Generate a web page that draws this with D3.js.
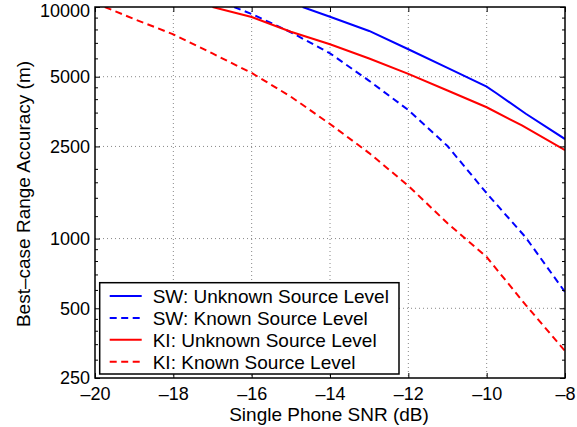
<!DOCTYPE html>
<html>
<head>
<meta charset="utf-8">
<script src="https://cdn.jsdelivr.net/npm/d3@7"></script>
<style>
  body { margin: 0; background: #fff; }
  text { font-family: "Liberation Sans", Arial, Helvetica, sans-serif; fill: #000; }
</style>
</head>
<body>
<div id="chart"></div>
<script>
// values (SNR in dB, accuracy in m)
var swUnknownX = [-14.7, -14, -13, -12, -11, -10, -9.75, -9, -8]
var swUnknownY = [10000, 9080, 7880, 6570, 5460, 4530, 4240, 3460, 2690]

var swKnownX = [-16.45, -16, -15, -14, -13, -12, -11, -10, -9, -8]
var swKnownY = [10000, 9330, 7780, 6310, 4800, 3590, 2510, 1570, 1010, 588]

var kiUnknownX = [-17, -16, -15, -14, -13, -12, -11, -10, -9.1, -8]
var kiUnknownY = [10000, 9050, 7820, 6900, 5990, 5140, 4360, 3690, 3080, 2410]

var kiKnownX = [-19.75, -19, -18, -17, -16, -15, -14, -13, -12, -11, -10, -9, -8]
var kiKnownY = [10000, 8870, 7620, 6300, 5190, 4100, 3125, 2340, 1690, 1165, 832, 516, 327]

var xTicks = [-20, -18, -16, -14, -12, -10, -8]
var yTicks = [250, 500, 1000, 2500, 5000, 10000]
var yMinorTicks = [300, 350, 400, 450, 600, 700, 800, 900, 1250, 1500, 1750, 2000,
                   3000, 3500, 4000, 4500, 6000, 7000, 8000, 9000]

var seriesNames = ["SW: Unknown Source Level", "SW: Known Source Level",
                   "KI: Unknown Source Level", "KI: Known Source Level"]
var seriesColors = ["#0000ff", "#0000ff", "#ff0000", "#ff0000"]
var seriesDashed = [false, true, false, true]

// layout
var widthSvg = 577
var heightSvg = 427
var margin = {left: 95, top: 7, right: 12, bottom: 49}
var plotWidth = widthSvg - margin.left - margin.right
var plotHeight = heightSvg - margin.top - margin.bottom
var dashPattern = "7,4.5"
var labelSize = 19
var tickSize = 18

var svg = d3.select("#chart")
  .append("svg")
  .attr("width", widthSvg)
  .attr("height", heightSvg)

var g = svg.append("g")
  .attr("transform", "translate(" + margin.left + "," + margin.top + ")")

var x = d3.scaleLinear().domain([-20, -8]).range([0, plotWidth])
var y = d3.scaleLog().domain([250, 10000]).range([plotHeight, 0])

// dotted grid
g.selectAll(".xgrid")
  .data(xTicks.slice(1, -1))
  .enter().append("line")
  .attr("x1", function(d) { return x(d) }).attr("x2", function(d) { return x(d) })
  .attr("y1", 0).attr("y2", plotHeight)
  .attr("stroke", "#888").attr("stroke-width", 1).attr("stroke-dasharray", "1,3")

g.selectAll(".ygrid")
  .data(yTicks.slice(1, -1))
  .enter().append("line")
  .attr("y1", function(d) { return y(d) }).attr("y2", function(d) { return y(d) })
  .attr("x1", 0).attr("x2", plotWidth)
  .attr("stroke", "#888").attr("stroke-width", 1).attr("stroke-dasharray", "1,3")

// clip so curves stop at the frame
svg.append("clipPath").attr("id", "plotclip")
  .append("rect").attr("width", plotWidth).attr("height", plotHeight)

var line = d3.line()
  .x(function(d) { return x(d[0]) })
  .y(function(d) { return y(d[1]) })

var allSeries = [
  d3.zip(swUnknownX, swUnknownY),
  d3.zip(swKnownX, swKnownY),
  d3.zip(kiUnknownX, kiUnknownY),
  d3.zip(kiKnownX, kiKnownY)
]

g.append("g").attr("clip-path", "url(#plotclip)")
  .selectAll("path")
  .data(allSeries)
  .enter().append("path")
  .attr("d", line)
  .attr("fill", "none")
  .attr("stroke", function(d, i) { return seriesColors[i] })
  .attr("stroke-width", 2)
  .attr("stroke-dasharray", function(d, i) { return seriesDashed[i] ? dashPattern : null })

// axes: inward ticks on all four sides
var xAxisBottom = d3.axisBottom(x).tickValues(xTicks).tickSizeInner(-5).tickSizeOuter(0)
  .tickPadding(9).tickFormat(function(d) { return String(d).replace("-", "\u2013") })
var xAxisTop = d3.axisTop(x).tickValues(xTicks).tickSizeInner(-5).tickSizeOuter(0).tickFormat("")
var yAxisLeft = d3.axisLeft(y).tickValues(yTicks).tickSizeInner(-5).tickSizeOuter(0)
  .tickPadding(5).tickFormat(d3.format("d"))
var yAxisRight = d3.axisRight(y).tickValues(yTicks).tickSizeInner(-5).tickSizeOuter(0).tickFormat("")

var minorLeft = d3.axisLeft(y).tickValues(yMinorTicks).tickSizeInner(-3).tickSizeOuter(0).tickFormat("")
var minorRight = d3.axisRight(y).tickValues(yMinorTicks).tickSizeInner(-3).tickSizeOuter(0).tickFormat("")

g.append("g").attr("class", "axis").attr("transform", "translate(0," + plotHeight + ")").call(xAxisBottom)
g.append("g").attr("class", "axis").call(xAxisTop)
var leftAxis = g.append("g").attr("class", "axis").call(yAxisLeft)
g.append("g").attr("class", "axis").attr("transform", "translate(" + plotWidth + ",0)").call(yAxisRight)
g.append("g").attr("class", "axis").call(minorLeft)
g.append("g").attr("class", "axis").attr("transform", "translate(" + plotWidth + ",0)").call(minorRight)

g.selectAll(".axis .domain").remove()
g.selectAll(".axis line").attr("stroke", "#000").attr("stroke-width", 1)
g.selectAll(".axis text").attr("font-size", tickSize)
  .attr("font-family", "Liberation Sans, Arial, sans-serif").attr("fill", "#000")

// top label sits a little below its tick so it stays inside the page
leftAxis.selectAll(".tick text")
  .filter(function(d) { return d === 10000 })
  .attr("dy", "0.55em")

// frame
g.append("rect")
  .attr("width", plotWidth).attr("height", plotHeight)
  .attr("fill", "none").attr("stroke", "#000").attr("stroke-width", 1.5)

// axis titles
svg.append("text")
  .attr("x", margin.left + plotWidth / 2 - 1)
  .attr("y", 421)
  .attr("text-anchor", "middle")
  .attr("font-size", labelSize)
  .text("Single Phone SNR (dB)")

svg.append("text")
  .attr("transform", "translate(30,194) rotate(-90)")
  .attr("text-anchor", "middle")
  .attr("font-size", labelSize)
  .text("Best\u2013case Range Accuracy (m)")

// legend
var legend = g.append("g").attr("transform", "translate(4.7,275.7)")
legend.append("rect")
  .attr("width", 299.3).attr("height", 91.3)
  .attr("fill", "#fff").attr("stroke", "#000").attr("stroke-width", 1.5)

var rows = legend.selectAll(".row")
  .data(seriesNames)
  .enter().append("g")
  .attr("transform", function(d, i) { return "translate(0," + (13.3 + i * 21.9) + ")" })

rows.append("line")
  .attr("x1", 10).attr("x2", 42)
  .attr("stroke", function(d, i) { return seriesColors[i] })
  .attr("stroke-width", 2)
  .attr("stroke-dasharray", function(d, i) { return seriesDashed[i] ? dashPattern : null })

rows.append("text")
  .attr("x", 53).attr("y", 7)
  .attr("font-size", labelSize)
  .text(function(d) { return d })
</script>
</body>
</html>
